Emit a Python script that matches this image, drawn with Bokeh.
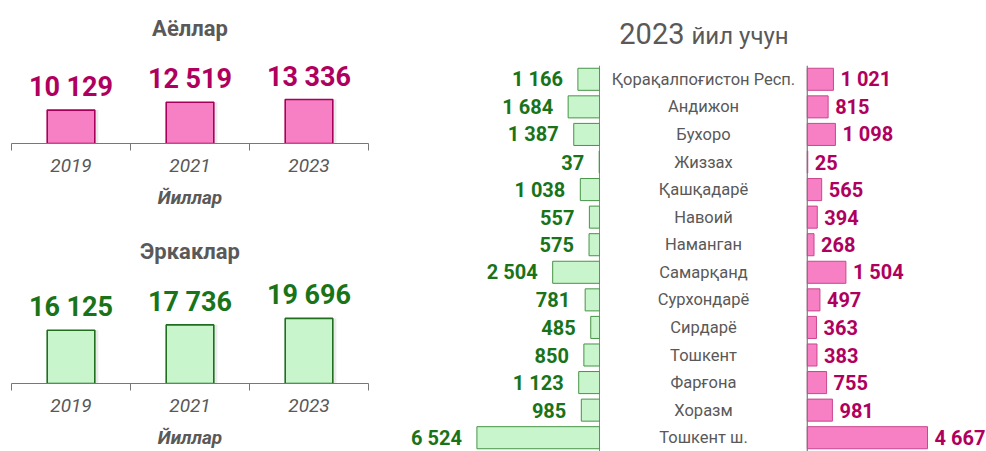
from bokeh.plotting import figure
from bokeh.models import Range1d, FactorRange, ColumnDataSource, FixedTicker, Span
from bokeh.layouts import row, column
from bokeh.core.properties import value
from bokeh.embed import file_html
from bokeh.resources import INLINE

# ---------------- data ----------------
years = ["2019", "2021", "2023"]
women_total = [10129, 12519, 13336]
men_total = [16125, 17736, 19696]

regions = ["Қорақалпоғистон Респ.", "Андижон", "Бухоро", "Жиззах", "Қашқадарё",
           "Навоий", "Наманган", "Самарқанд", "Сурхондарё", "Сирдарё",
           "Тошкент", "Фарғона", "Хоразм", "Тошкент ш."]
men_2023 = [1166, 1684, 1387, 37, 1038, 557, 575, 2504, 781, 485, 850, 1123, 985, 6524]
women_2023 = [1021, 815, 1098, 25, 565, 394, 268, 1504, 497, 363, 383, 755, 981, 4667]

title_women = "Аёллар"
title_men = "Эркаклар"
x_title = "Йиллар"
right_title_year = "2023"
right_title_rest = "йил учун"

# ---------------- styles ----------------
FONT = "Roboto"
GRAY = "#595959"
AXIS_GRAY = "#777777"
PINK_FILL = "#F77FC4"
PINK_LINE = "#A8005A"
PINK_LINE2 = "#C9478F"
PINK_TEXT = "#B0005E"
GREEN_FILL = "#C9F5CC"
GREEN_LINE = "#1F6F1F"
GREEN_LINE2 = "#479447"
GREEN_TEXT = "#197319"


def fmt(v):
    return f"{v:,}".replace(",", " ")


def year_panel(title, vals, fill, line, tcol, height, top_border, standoff, yfactor):
    n = len(years)
    p = figure(width=410, height=height, x_range=Range1d(-0.5, n - 0.5),
               y_range=Range1d(0, max(vals) * yfactor),
               output_backend="svg", toolbar_location=None,
               min_border_left=11, min_border_right=42, min_border_top=top_border,
               min_border_bottom=0, y_axis_location=None)
    p.outline_line_color = None
    p.grid.visible = False
    p.title.text = title
    p.title.align = "center"
    p.title.text_font = FONT
    p.title.text_font_size = "22px"
    p.title.text_font_style = "bold"
    p.title.text_color = GRAY
    p.title.standoff = standoff

    idx = list(range(n))
    src = ColumnDataSource(dict(x=idx, v=vals, lab=[fmt(v) for v in vals],
                                xs=[i + 0.03 for i in idx]))
    p.vbar(x="xs", top="v", width=0.4, bottom=0, source=src,
           fill_color="black", fill_alpha=0.08, line_color=None)
    p.vbar(x="x", top="v", width=0.4, bottom=0, source=src,
           fill_color=fill, line_color=line, line_width=1.6)
    p.text(x="x", y="v", text="lab", source=src, text_align="center",
           text_baseline="middle", y_offset=-23,
           text_font=value(FONT), text_font_style="bold",
           text_font_size="27px", text_color=tcol)

    ax = p.xaxis[0]
    ax.ticker = FixedTicker(ticks=idx, minor_ticks=[i - 0.5 for i in range(n + 1)])
    ax.major_label_overrides = {i: y for i, y in zip(idx, years)}
    ax.major_tick_line_color = None
    ax.major_tick_out = 0
    ax.major_tick_in = 0
    ax.minor_tick_in = 0
    ax.minor_tick_out = 7
    ax.minor_tick_line_color = AXIS_GRAY
    ax.axis_line_color = AXIS_GRAY
    ax.major_label_standoff = 8
    ax.major_label_text_font = FONT
    ax.major_label_text_font_style = "italic"
    ax.major_label_text_font_size = "19px"
    ax.major_label_text_color = GRAY
    ax.axis_label = x_title
    ax.axis_label_text_font = FONT
    ax.axis_label_text_font_style = "bold italic"
    ax.axis_label_text_font_size = "19px"
    ax.axis_label_text_color = GRAY
    ax.axis_label_standoff = 11
    return p


top = year_panel(title_women, women_total, PINK_FILL, PINK_LINE, PINK_TEXT,
                 211, 48, 16, 2.16)
bottom = year_panel(title_men, men_total, GREEN_FILL, GREEN_LINE, GREEN_TEXT,
                    240, 59, 14, 1.736)

# ---------------- right panel ----------------
yr = FactorRange(factors=list(reversed(regions)))
H_RIGHT = 451
TOP_B = 65


def side_fig(width, xr):
    p = figure(width=width, height=H_RIGHT, x_range=xr, y_range=yr,
               output_backend="svg", toolbar_location=None,
               min_border_left=0, min_border_right=0, min_border_top=TOP_B,
               min_border_bottom=0, x_axis_location=None, y_axis_location=None)
    p.outline_line_color = None
    p.grid.visible = False
    return p


gmax = max(men_2023)
green = side_fig(190, Range1d(gmax * 1.54, -gmax * 0.005))
gsrc = ColumnDataSource(dict(r=regions, v=men_2023, lab=[fmt(v) for v in men_2023]))
green.hbar(y="r", left=0, right="v", height=0.8, source=gsrc,
           fill_color=GREEN_FILL, line_color=GREEN_LINE2, line_width=1)
green.text(x="v", y="r", text="lab", source=gsrc, text_align="right",
           text_baseline="middle", x_offset=-15, text_font=value(FONT),
           text_font_style="bold", text_font_size="20px", text_color=GREEN_TEXT)
green.add_layout(Span(location=0, dimension="height", line_color=AXIS_GRAY, line_width=1.5))

pmax = max(women_2023)
pink = side_fig(180, Range1d(-pmax * 0.005, pmax * 1.49))
psrc = ColumnDataSource(dict(r=regions, v=women_2023, lab=[fmt(v) for v in women_2023]))
pink.hbar(y="r", left=0, right="v", height=0.8, source=psrc,
          fill_color=PINK_FILL, line_color=PINK_LINE2, line_width=1)
pink.text(x="v", y="r", text="lab", source=psrc, text_align="left",
          text_baseline="middle", x_offset=7, text_font=value(FONT),
          text_font_style="bold", text_font_size="20px", text_color=PINK_TEXT)
pink.add_layout(Span(location=0, dimension="height", line_color=AXIS_GRAY, line_width=1.5))

center = figure(width=206, height=H_RIGHT - TOP_B, x_range=Range1d(-1, 1), y_range=yr,
                output_backend="svg", toolbar_location=None, min_border=0,
                x_axis_location=None, y_axis_location=None)
center.outline_line_color = None
center.grid.visible = False
csrc = ColumnDataSource(dict(r=regions, x=[0] * len(regions)))
center.text(x="x", y="r", text="r", source=csrc, text_align="center",
            text_baseline="middle", text_font=value(FONT),
            text_font_size="16.5px", text_color=GRAY)

tfig = figure(width=206, height=TOP_B, x_range=Range1d(-1, 1), y_range=Range1d(0, 1),
              output_backend="svg", toolbar_location=None, min_border=0,
              x_axis_location=None, y_axis_location=None)
tfig.outline_line_color = None
tfig.grid.visible = False
tfig.text(x=[0], y=[0.485], text=[right_title_year], text_align="right",
          text_baseline="middle", x_offset=-19, text_font=value(FONT),
          text_font_size="29px", text_color=GRAY)
tfig.text(x=[0], y=[0.485], text=[right_title_rest], text_align="left",
          text_baseline="middle", x_offset=-12, y_offset=2, text_font=value(FONT),
          text_font_size="24px", text_color=GRAY)

layout = row(column(top, bottom), row(green, column(tfig, center), pink))

open("out.html", "w").write(file_html(layout, INLINE))
